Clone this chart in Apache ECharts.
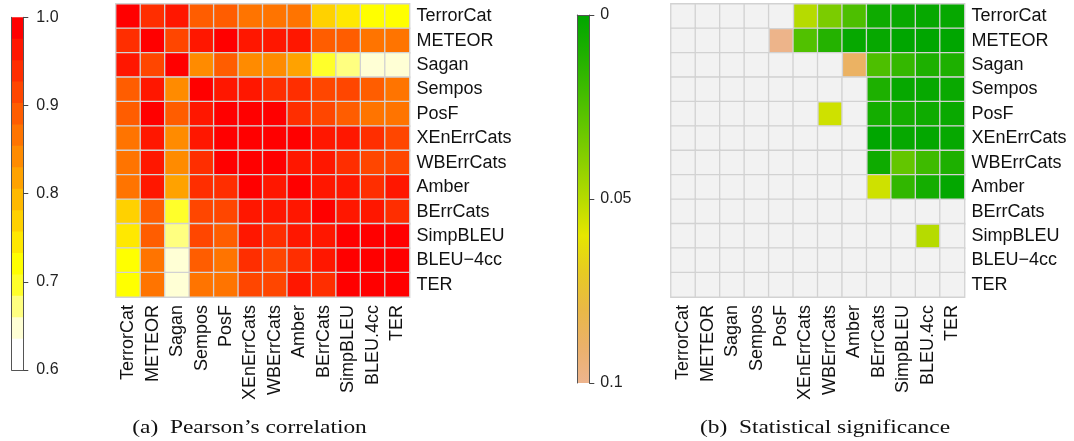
<!DOCTYPE html>
<html><head><meta charset="utf-8">
<script src="https://cdn.jsdelivr.net/npm/echarts@6/dist/echarts.min.js"></script>
<style>html,body{margin:0;padding:0;background:#fff}#c{width:1074px;height:441px}</style>
</head><body><div id="c"></div>
<script>
// ---------------- data ----------------
const rowLabels = ['TerrorCat','METEOR','Sagan','Sempos','PosF','XEnErrCats','WBErrCats','Amber','BErrCats','SimpBLEU','BLEU\u22124cc','TER'];
const colLabels = ['TerrorCat','METEOR','Sagan','Sempos','PosF','XEnErrCats','WBErrCats','Amber','BErrCats','SimpBLEU','BLEU.4cc','TER'];

// (a) Pearson's correlation (rows = rowLabels, columns = colLabels)
const pearson = [
  [1.000,0.935,0.960,0.890,0.885,0.865,0.860,0.865,0.770,0.745,0.720,0.715],
  [0.935,1.000,0.915,0.960,0.990,0.960,0.955,0.960,0.890,0.885,0.865,0.860],
  [0.960,0.915,1.000,0.840,0.890,0.840,0.835,0.820,0.700,0.670,0.650,0.645],
  [0.890,0.960,0.840,1.000,0.960,0.955,0.940,0.935,0.915,0.910,0.890,0.865],
  [0.885,0.990,0.890,0.960,1.000,0.985,0.985,0.940,0.915,0.890,0.870,0.865],
  [0.865,0.960,0.840,0.955,0.985,1.000,0.990,0.985,0.960,0.960,0.940,0.915],
  [0.860,0.955,0.835,0.940,0.985,0.990,1.000,0.960,0.960,0.935,0.915,0.910],
  [0.865,0.960,0.820,0.935,0.940,0.985,0.960,1.000,0.965,0.960,0.940,0.955],
  [0.770,0.890,0.700,0.915,0.915,0.960,0.960,0.965,1.000,0.960,0.955,0.935],
  [0.745,0.885,0.670,0.910,0.890,0.960,0.935,0.960,0.960,1.000,0.990,0.985],
  [0.720,0.865,0.650,0.890,0.870,0.940,0.915,0.940,0.955,0.990,1.000,0.990],
  [0.715,0.860,0.645,0.865,0.865,0.915,0.910,0.955,0.935,0.985,0.990,1.000]
];

// (b) Statistical significance (p-values); NS = not significant (p > 0.1), drawn grey
const NS = null;
const pValues = [
  [NS,NS,NS,NS,NS,0.050,0.036,0.024,0.005,0.003,0.002,0.002],
  [NS,NS,NS,NS,0.099,0.025,0.012,0.002,0.002,0.000,0.000,0.000],
  [NS,NS,NS,NS,NS,NS,NS,0.088,0.024,0.017,0.010,0.010],
  [NS,NS,NS,NS,NS,NS,NS,NS,0.010,0.002,0.002,0.003],
  [NS,NS,NS,NS,NS,NS,0.055,NS,0.007,0.007,0.005,0.003],
  [NS,NS,NS,NS,NS,NS,NS,NS,0.000,0.002,0.001,0.002],
  [NS,NS,NS,NS,NS,NS,NS,NS,0.005,0.030,0.020,0.010],
  [NS,NS,NS,NS,NS,NS,NS,NS,0.055,0.016,0.007,0.001],
  [NS,NS,NS,NS,NS,NS,NS,NS,NS,NS,NS,NS],
  [NS,NS,NS,NS,NS,NS,NS,NS,NS,NS,0.050,NS],
  [NS,NS,NS,NS,NS,NS,NS,NS,NS,NS,NS,NS],
  [NS,NS,NS,NS,NS,NS,NS,NS,NS,NS,NS,NS]
];

const corrRange = [0.6, 1.0];
const corrTickStep = 0.1;
const sigRange = [0, 0.1];
const sigTickStep = 0.05;

// ---------------- palettes ----------------
const heatBreaks = [1.0,0.9757,0.9514,0.9271,0.9028,0.8785,0.8542,0.8299,0.8056,0.7813,0.7570,0.7327,0.7084,0.6841,0.6598,0.6355];
const heatColors = ['#FF0000','#FF1700','#FF2E00','#FF4600','#FF5D00','#FF7400','#FF8B00','#FFA200','#FFB900','#FFD100','#FFE800','#FFFF00','#FFFF2A','#FFFF80','#FFFFD5'];
const sigColors = ['#00A600','#1DB000','#3EBB00','#63C600','#8BD000','#B6DB00','#E6E600','#E7CA23','#E9B846','#EBB16A','#EDB48E'];
const nsColor = '#F2F2F2';

function toCells(m){ const out=[]; m.forEach((row,r)=>row.forEach((v,c)=>{ if(v!==null) out.push([c,r,v]); })); return out; }
function nsCells(m){ const out=[]; m.forEach((row,r)=>row.forEach((v,c)=>{ if(v===null) out.push([c,r,0]); })); return out; }

const FONT = 'Liberation Sans';
const TXT = '#111';
const cellStyle = {borderColor:'#D2D2D2', borderWidth:1.3};

const pieces = heatColors.map((c,i)=> i===0 ? {gte:heatBreaks[1], lte:heatBreaks[0], color:c}
                                             : {gte:heatBreaks[i+1], lt:heatBreaks[i], color:c});
pieces.push({lt:heatBreaks[heatBreaks.length-1], color:'#FFFFFF'});

const catX = (gi)=>({type:'category', gridIndex:gi, data:colLabels, position:'bottom',
  axisLine:{show:false}, axisTick:{show:false}, splitLine:{show:false},
  axisLabel:{rotate:90, margin:8, fontSize:18, fontFamily:FONT, color:TXT, interval:0}});
const catY = (gi)=>({type:'category', gridIndex:gi, data:rowLabels, inverse:true, position:'right',
  axisLine:{show:false}, axisTick:{show:false}, splitLine:{show:false},
  axisLabel:{margin:7, fontSize:18, fontFamily:FONT, color:TXT, interval:0}});
const barX = (gi)=>({type:'category', gridIndex:gi, data:['cb'], z:5,
  axisLine:{show:true, lineStyle:{color:'#555', width:1}}, axisTick:{show:false}, axisLabel:{show:false}});
const lineY = (gi, rng, inv)=>({type:'value', gridIndex:gi, min:rng[0], max:rng[1], inverse:inv, position:'left', z:5,
  axisLine:{show:true, lineStyle:{color:'#555', width:1}}, axisTick:{show:false}, axisLabel:{show:false}, splitLine:{show:false}});
const tickY = (gi, rng, step, inv, margin, fmt)=>({type:'value', gridIndex:gi, min:rng[0], max:rng[1], interval:step, inverse:inv, position:'right', z:5,
  axisLine:{show:true, lineStyle:{color:'#555', width:1}},
  axisTick:{show:true, length:5, lineStyle:{color:'#444'}},
  axisLabel:{margin:margin, fontSize:16, fontFamily:FONT, color:'#222', formatter:fmt},
  splitLine:{show:false}});

const cbarA = heatBreaks.map((b,i)=>({type:'bar', xAxisIndex:2, yAxisIndex:2, data:[b], barWidth:'100%', barGap:'-100%',
  clip:true, silent:true, animation:false, itemStyle:{color: i<heatColors.length ? heatColors[i] : '#FFFFFF'}}));

const option = {
  backgroundColor:'#fff',
  animation:false,
  grid:[
    {left:116, top:4, width:293.5, height:293, outerBoundsMode:'none'},
    {left:671, top:4, width:293.5, height:293, outerBoundsMode:'none'},
    {left:11.7, top:17.3, width:11.6, height:352.7, outerBoundsMode:'none'},
    {left:577.3, top:15, width:12, height:368, outerBoundsMode:'none'}
  ],
  xAxis:[catX(0), catX(1), barX(2), barX(3)],
  yAxis:[catY(0), catY(1),
    tickY(2, corrRange, corrTickStep, false, 13, v=>v.toFixed(1)),
    lineY(2, corrRange, false),
    tickY(3, sigRange, sigTickStep, true, 11, v=>String(+v.toFixed(2))),
    lineY(3, sigRange, true)],
  visualMap:[
    {type:'piecewise', show:false, seriesIndex:0, pieces:pieces},
    {type:'continuous', show:false, seriesIndex:1, min:sigRange[0], max:sigRange[1],
     inRange:{color:sigColors}}
  ],
  series:[
    {type:'heatmap', xAxisIndex:0, yAxisIndex:0, data:toCells(pearson), itemStyle:cellStyle, silent:true},
    {type:'heatmap', xAxisIndex:1, yAxisIndex:1, data:toCells(pValues), itemStyle:cellStyle, silent:true},
    {type:'heatmap', xAxisIndex:1, yAxisIndex:1, data:nsCells(pValues), itemStyle:Object.assign({color:nsColor}, cellStyle), silent:true},
    ...cbarA,
    {type:'bar', xAxisIndex:3, yAxisIndex:4, data:[sigRange[1]], barWidth:'100%', clip:true, silent:true,
     itemStyle:{color:new echarts.graphic.LinearGradient(0,0,0,1,
        sigColors.map((c,i)=>({offset:i/(sigColors.length-1), color:c})))}}
  ],
  graphic:[
    {type:'text', x:249.5, y:428, scaleX:1.3, style:{text:'(a)  Pearson\u2019s correlation', font:'18px "Liberation Serif"', fill:'#111', textAlign:'center', textVerticalAlign:'middle'}},
    {type:'text', x:825, y:428, scaleX:1.3, style:{text:'(b)  Statistical significance', font:'18px "Liberation Serif"', fill:'#111', textAlign:'center', textVerticalAlign:'middle'}}
  ]
};
const chart = echarts.init(document.getElementById('c'), null, {renderer:'canvas'});
chart.setOption(option);
</script></body></html>
